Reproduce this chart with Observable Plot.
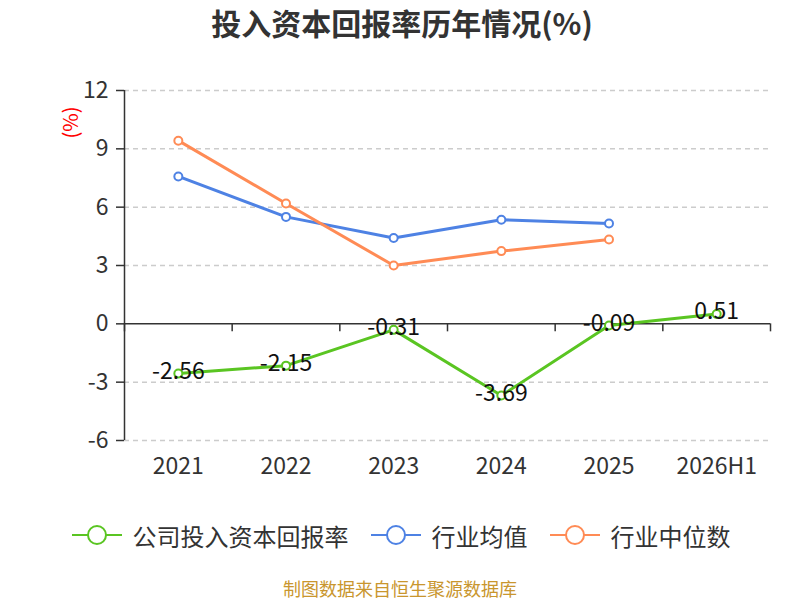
<!DOCTYPE html>
<html>
<head>
<meta charset="utf-8">
<script src="https://cdn.jsdelivr.net/npm/d3@7"></script>
<script src="https://cdn.jsdelivr.net/npm/@observablehq/plot@0.6"></script>
<style>
  body { margin: 0; background: #fff; font-family: "Noto Sans CJK SC", "Noto Sans", sans-serif; }
  #wrap { width: 800px; height: 600px; position: relative; overflow: hidden; }
  #title { height: 45px; line-height: 45px; text-align: center; font-size: 30px; font-weight: bold; color: #333; padding-left: 4px; }
  #legend { height: 80px; display: flex; justify-content: center; align-items: center; font-size: 24px; color: #333; padding-left: 2px; }
  .item { display: flex; align-items: center; }
  .item svg { margin-right: 11px; }
  .item + .item { margin-left: 22px; }
  #caption { height: 26px; line-height: 26px; text-align: center; font-size: 18px; color: #c9962e; }
</style>
</head>
<body>
<div id="wrap">
  <div id="title">投入资本回报率历年情况(%)</div>
  <div id="chart"></div>
  <div id="legend"></div>
  <div id="caption">制图数据来自恒生聚源数据库</div>
</div>
<script>
const categories = ["2021", "2022", "2023", "2024", "2025", "2026H1"];
const companyROIC = [-2.56, -2.15, -0.31, -3.69, -0.09, 0.51];
const industryMean = [7.58, 5.50, 4.41, 5.35, 5.16];
const industryMedian = [9.42, 6.19, 3.00, 3.74, 4.34];
const yTicks = [-6, -3, 0, 3, 6, 9, 12];
const seriesNames = ["公司投入资本回报率", "行业均值", "行业中位数"];
const colors = ["#5ac522", "#4e82e4", "#ff8b55"];

const toRows = (vals) => vals.map((v, i) => ({i, v}));
const company = toRows(companyROIC);
const mean = toRows(industryMean);
const median = toRows(industryMedian);
const boundaries = d3.range(categories.length + 1).map(k => k - 0.5);

const chart = Plot.plot({
  width: 800,
  height: 450,
  marginTop: 45,
  marginBottom: 55,
  marginLeft: 124,
  marginRight: 30,
  style: {fontFamily: '"Noto Sans CJK SC", "Noto Sans", sans-serif', background: "#fff"},
  x: {type: "linear", domain: [-0.5, categories.length - 0.5]},
  y: {domain: [-6, 12]},
  marks: [
    Plot.gridY(yTicks.filter(t => t !== 0), {stroke: "#cccccc", strokeOpacity: 1, strokeWidth: 1.5, strokeDasharray: "5,4"}),
    Plot.axisY(yTicks, {tickSize: 8, tickPadding: 8, fontSize: 23, color: "#333", stroke: "#333", strokeWidth: 1.5, label: null, tickFormat: d => String(d)}),
    Plot.axisX(d3.range(categories.length), {tickSize: 0, tickPadding: 17, fontSize: 23, color: "#333", tickFormat: i => categories[i], label: null}),
    Plot.ruleX([-0.5], {stroke: "#333", strokeWidth: 1.5}),
    Plot.ruleY([0], {stroke: "#333", strokeWidth: 1.5}),
    Plot.ruleX(boundaries, {x: d => d, y1: () => 0, y2: () => 0, insetBottom: -8, stroke: "#333", strokeWidth: 1.5}),
    Plot.line(mean, {x: "i", y: "v", stroke: colors[1], strokeWidth: 3}),
    Plot.line(median, {x: "i", y: "v", stroke: colors[2], strokeWidth: 3}),
    Plot.line(company, {x: "i", y: "v", stroke: colors[0], strokeWidth: 3}),
    Plot.dot(mean, {x: "i", y: "v", r: 4, fill: "#fff", stroke: colors[1], strokeWidth: 2}),
    Plot.dot(median, {x: "i", y: "v", r: 4, fill: "#fff", stroke: colors[2], strokeWidth: 2}),
    Plot.dot(company, {x: "i", y: "v", r: 4, fill: "#fff", stroke: colors[0], strokeWidth: 2}),
    Plot.text(company, {x: "i", y: "v", text: d => d.v.toFixed(2), fontSize: 23, fill: "#111", dy: -2}),
    Plot.text(["(%)"], {frameAnchor: "top-left", dx: -61, dy: 48, rotate: -90, fill: "red", fontSize: 20})
  ]
});
document.getElementById("chart").appendChild(chart);

const legend = document.getElementById("legend");
seriesNames.forEach((name, k) => {
  const item = document.createElement("div");
  item.className = "item";
  item.innerHTML = `<svg width="50" height="24"><line x1="0" y1="12" x2="50" y2="12" stroke="${colors[k]}" stroke-width="2"/><circle cx="25" cy="12" r="9" fill="#fff" stroke="${colors[k]}" stroke-width="2"/></svg><span>${name}</span>`;
  legend.appendChild(item);
});
</script>
</body>
</html>
